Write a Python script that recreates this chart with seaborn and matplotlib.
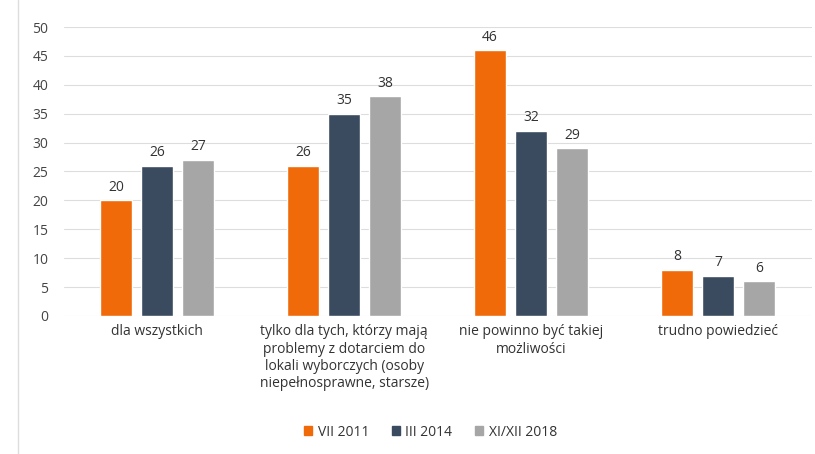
import matplotlib
matplotlib.use("Agg")
import matplotlib.pyplot as plt
import seaborn as sns
import pandas as pd

categories = [
    "dla wszystkich",
    "tylko dla tych, którzy mają\nproblemy z dotarciem do\nlokali wyborczych (osoby\nniepełnosprawne, starsze)",
    "nie powinno być takiej\nmożliwości",
    "trudno powiedzieć",
]
series = ["VII 2011", "III 2014", "XI/XII 2018"]
vals_2011 = [20, 26, 46, 8]
vals_2014 = [26, 35, 32, 7]
vals_2018 = [27, 38, 29, 6]
colors = ["#F06A0A", "#3A4A5F", "#A6A6A6"]
yticks = list(range(0, 51, 5))

rows = []
for s, vals in zip(series, [vals_2011, vals_2014, vals_2018]):
    for c, v in zip(categories, vals):
        rows.append({"kategoria": c, "seria": s, "wartosc": v})
df = pd.DataFrame(rows)

sns.set_theme(style="white")
plt.rcParams["font.family"] = ["Open Sans", "DejaVu Sans"]

fig = plt.figure(figsize=(8.15, 4.54), dpi=100)
ax = fig.add_axes([0.078, 0.304, 0.918, 0.6365])

sns.barplot(data=df, x="kategoria", y="wartosc", hue="seria", palette=colors,
            width=0.66, gap=0.22, ax=ax, legend=False, saturation=1)

for cont in ax.containers:
    ax.bar_label(cont, padding=4, fontsize=10, color="#333333")

ax.set_ylim(0, 50)
ax.set_yticks(yticks)
ax.set_xlim(-0.5, 3.5)
ax.yaxis.grid(True, color="#DDDDDD", linewidth=0.8)
ax.set_axisbelow(True)
for sp in ax.spines.values():
    sp.set_visible(False)
ax.set_xlabel("")
ax.set_ylabel("")
ax.tick_params(axis="y", labelsize=10, colors="#444444", pad=11, length=0)
ax.tick_params(axis="x", labelsize=10, colors="#333333", pad=6, length=0)

handles = [plt.Rectangle((0, 0), 1, 1, color=c) for c in colors]
fig.legend(handles, series, loc="center", bbox_to_anchor=(0.528, 0.048), ncol=3,
           frameon=False, fontsize=10, handlelength=0.6, handleheight=0.6,
           columnspacing=1.6, handletextpad=0.4, labelcolor="#333333")

fig.add_artist(plt.Line2D([0.022, 0.022], [0.0, 1.0], color="#DDDDDD", linewidth=1))

fig.savefig("out.png", dpi=100, facecolor="white")
